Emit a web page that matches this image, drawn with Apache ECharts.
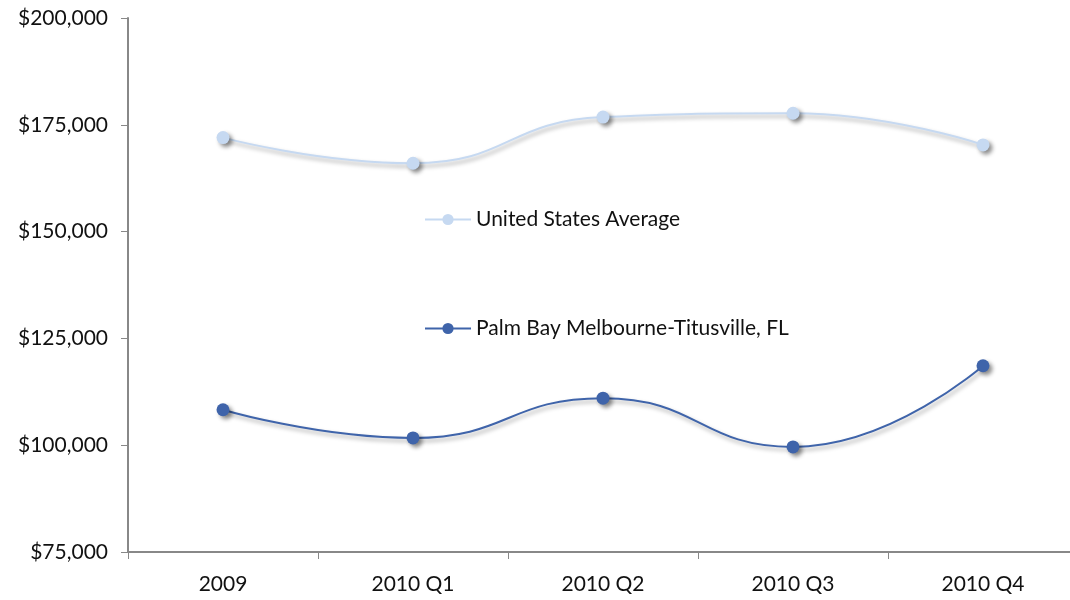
<!DOCTYPE html>
<html>
<head>
<meta charset="utf-8">
<script src="https://cdn.jsdelivr.net/npm/echarts@6/dist/echarts.min.js"></script>
<style>
  html, body { margin: 0; padding: 0; background: #fff; }
  #main { width: 1070px; height: 600px; }
</style>
</head>
<body>
<div id="main"></div>
<script>
// categories and values
const periods = ['2009', '2010 Q1', '2010 Q2', '2010 Q3', '2010 Q4'];
const usAverage = [172000, 166000, 176800, 177700, 170300];
const palmBay = [108300, 101700, 111000, 99600, 118600];

const seriesNames = ['United States Average', 'Palm Bay Melbourne-Titusville, FL'];
const colors = ['#C6D9F1', '#3F64AA'];
const fontFam = '"Lato", "DejaVu Sans", sans-serif';

const chart = echarts.init(document.getElementById('main'));

function lineSeries(name, data, color) {
  return {
    name: name,
    type: 'line',
    data: data,
    smooth: 0.5,
    symbol: 'circle',
    symbolSize: 13,
    lineStyle: {
      color: color,
      width: 2,
      shadowColor: 'rgba(0,0,0,0.35)',
      shadowBlur: 4,
      shadowOffsetX: 2,
      shadowOffsetY: 3
    },
    itemStyle: {
      color: color,
      shadowColor: 'rgba(0,0,0,0.45)',
      shadowBlur: 4,
      shadowOffsetX: 3,
      shadowOffsetY: 3
    },
    emphasis: { disabled: true }
  };
}

const option = {
  animation: false,
  color: colors,
  grid: {
    left: 128,
    top: 18,
    width: 950,
    height: 534,
    outerBoundsMode: 'none'
  },
  legend: {
    orient: 'vertical',
    left: 419,
    top: 204,
    itemGap: 88,
    itemWidth: 46,
    itemHeight: 14,
    textStyle: { fontFamily: fontFam, fontSize: 21, color: '#111' },
    data: seriesNames
  },
  xAxis: {
    type: 'category',
    data: periods,
    boundaryGap: true,
    axisLine: { lineStyle: { color: '#888', width: 2 } },
    axisTick: { show: true, length: 7, lineStyle: { color: '#888' } },
    axisLabel: { fontFamily: fontFam, fontSize: 21, color: '#111', margin: 22 }
  },
  yAxis: {
    type: 'value',
    min: 75000,
    max: 200000,
    interval: 25000,
    splitLine: { show: false },
    axisLine: { show: true, lineStyle: { color: '#888', width: 2 } },
    axisTick: { show: true, length: 7, lineStyle: { color: '#888' } },
    axisLabel: {
      fontFamily: fontFam,
      fontSize: 21,
      color: '#111',
      margin: 20,
      formatter: v => '$' + v.toLocaleString('en-US')
    }
  },
  series: [
    lineSeries(seriesNames[0], usAverage, colors[0]),
    lineSeries(seriesNames[1], palmBay, colors[1])
  ]
};

chart.setOption(option);
</script>
</body>
</html>
